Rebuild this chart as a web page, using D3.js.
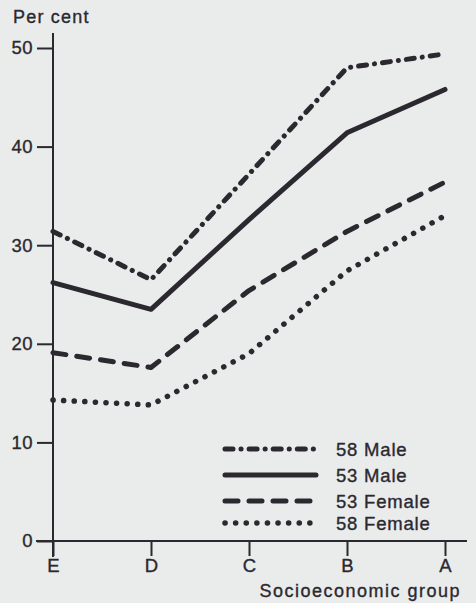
<!DOCTYPE html>
<html>
<head>
<meta charset="utf-8">
<script src="https://cdn.jsdelivr.net/npm/d3@7"></script>
<style>
html,body{margin:0;padding:0;background:#e9ecea;}
svg{display:block;}
text{font-family:"Liberation Sans",Arial,Helvetica,sans-serif;fill:#2b2830;stroke:#2b2830;stroke-width:0.35px;}
</style>
</head>
<body>
<script>
const groups = ["E","D","C","B","A"];
const seriesNames = ["58 Male","53 Male","53 Female","58 Female"];
const male58   = [31.4, 26.5, 37.2, 48.0, 49.4];
const male53   = [26.2, 23.5, 32.6, 41.4, 45.8];
const female53 = [19.1, 17.6, 25.4, 31.4, 36.4];
const female58 = [14.3, 13.8, 19.0, 27.4, 33.0];
const yTicks = [0,10,20,30,40,50];

const W = 476, H = 603;
const ink = "#2b2830";
const svg = d3.select("body").append("svg").attr("width",W).attr("height",H);

const x = d3.scalePoint().domain(groups).range([53,445]);
const y = d3.scaleLinear().domain([0,50]).range([541,48]);

// y axis
const yAxis = d3.axisLeft(y).tickValues(yTicks).tickSize(16).tickPadding(4).tickFormat(d3.format("d"));
const gy = svg.append("g").attr("transform","translate(53,0)").call(yAxis);
gy.select(".domain").remove();
gy.selectAll(".tick line").attr("stroke",ink).attr("stroke-width",2);
gy.selectAll(".tick text").attr("font-size",18.5).style("letter-spacing","0.5px");
svg.append("line").attr("x1",53).attr("x2",53).attr("y1",33).attr("y2",557)
  .attr("stroke",ink).attr("stroke-width",2);

// x axis
const xAxis = d3.axisBottom(x).tickSize(15).tickPadding(3);
const gx = svg.append("g").attr("transform","translate(0,541)").call(xAxis);
gx.select(".domain").remove();
gx.selectAll(".tick line").attr("stroke",ink).attr("stroke-width",2);
gx.selectAll(".tick text").attr("font-size",18.5);
svg.append("line").attr("x1",36).attr("x2",467).attr("y1",541).attr("y2",541)
  .attr("stroke",ink).attr("stroke-width",2);

svg.append("text").attr("x",13).attr("y",23).attr("font-size",18).style("letter-spacing","1.2px").text("Per cent");
svg.append("text").attr("x",461).attr("y",597).attr("text-anchor","end").attr("font-size",18)
  .style("letter-spacing","1.5px").text("Socioeconomic group");

const styles = [
  {dash:"8 8 0.1 8", w:5},
  {dash:null, w:5},
  {dash:"13 11", w:5},
  {dash:"0.1 10.5", w:5.5}
];
const data = [male58, male53, female53, female58];
const line = d3.line().x((d,i)=>x(groups[i])).y(d=>y(d));

data.forEach((vals,k)=>{
  const p = svg.append("path").datum(vals).attr("d",line)
    .attr("fill","none").attr("stroke",ink).attr("stroke-width",styles[k].w)
    .attr("stroke-linecap","round").attr("stroke-linejoin","round");
  if(styles[k].dash) p.attr("stroke-dasharray",styles[k].dash);
});

// legend
const legY = [449,475,501,523];
seriesNames.forEach((name,k)=>{
  const l = svg.append("line").attr("x1",225).attr("x2",316).attr("y1",legY[k]).attr("y2",legY[k])
    .attr("stroke",ink).attr("stroke-width",styles[k].w).attr("stroke-linecap","round");
  if(styles[k].dash) l.attr("stroke-dasharray",styles[k].dash);
  svg.append("text").attr("x",336).attr("y",legY[k]+6.5).attr("font-size",18.5)
    .style("letter-spacing","0.8px").text(name);
});
</script>
</body>
</html>
